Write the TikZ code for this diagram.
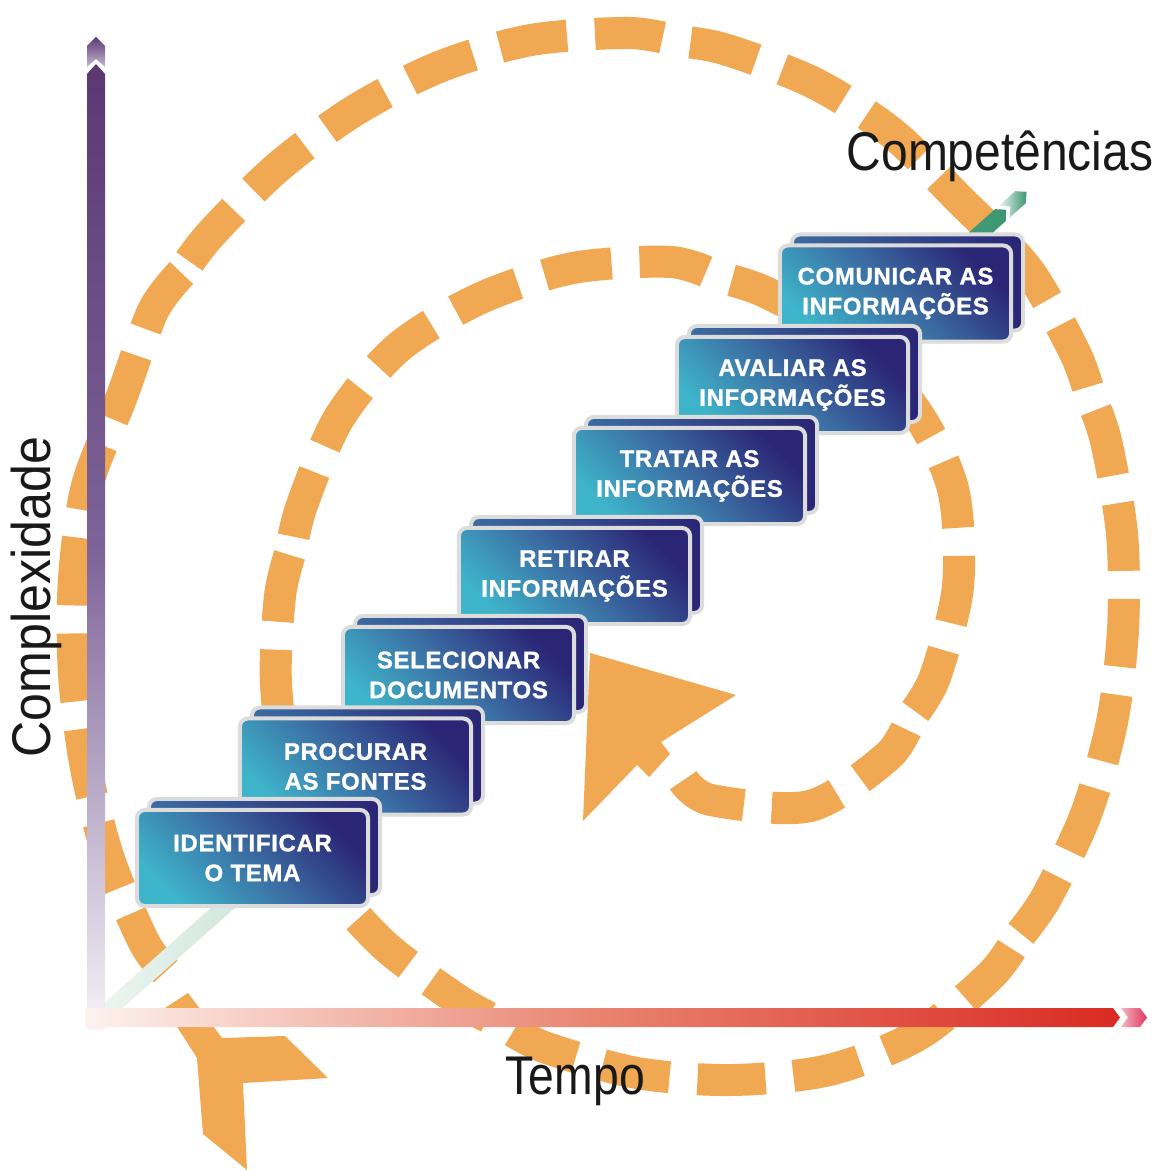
\documentclass[tikz,border=0pt]{standalone}
\usepackage{graphicx}
\usepackage{fontspec}
\setmainfont{Liberation Sans}
\newfontfamily\stepfont{Liberation Sans}[LetterSpace=3.0, BoldFeatures={FakeBold=1.2}]
\definecolor{spiralorange}{HTML}{F0A852}
\definecolor{purpD}{HTML}{5B3871}
\definecolor{purpM}{HTML}{7D6398}
\definecolor{purpL}{HTML}{F6F2F8}
\definecolor{redD}{HTML}{D92A21}
\definecolor{redM}{HTML}{E9826F}
\definecolor{redL}{HTML}{FDF2EE}
\definecolor{tipred}{HTML}{E0345A}
\definecolor{grnD}{HTML}{3C9771}
\definecolor{grnL}{HTML}{EEF6F2}
\definecolor{boxteal}{HTML}{3EB4CA}
\definecolor{boxblue}{HTML}{3B6CA2}
\definecolor{boxnavy}{HTML}{2A2575}
\definecolor{boxrim}{HTML}{DCDCDC}
\tikzset{
  stepbox/.style={rectangle, rounded corners=0.08cm, minimum width=2.31cm,
    minimum height=0.96cm, inner sep=0pt, draw=boxrim, line width=0.04cm,
    left color=boxteal, right color=boxnavy, middle color=boxblue, shading angle=135,
    text=white, align=center, font=\stepfont\bfseries\fontsize{6.8}{8.5}\selectfont,
    preaction={draw=boxrim, line width=0.04cm, left color=boxblue, right color=boxnavy,
      transform canvas={xshift=0.12cm, yshift=0.11cm}}},
  spiral/.style={draw=spiralorange, line width=0.32cm,
    dash pattern=on 0.68cm off 0.28cm, dash phase=0.82cm},
  axislabel/.style={inner sep=0pt, text=black!90, font=\fontsize{15.5}{18}\selectfont}
}

\begin{document}
\begin{tikzpicture}[x=0.01cm, y=-0.01cm]
    \useasboundingbox (0,0) rectangle (1156,1171);
    % spiral, drawn in pieces that start and end in a gap
    \draw[spiral, dash phase=0.87cm] plot[smooth] coordinates {(172,978) (145,944)
      (109,859) (86,768) (74,674) (74,579) (87,486) (122,396) (153,311) (181.5,273)};
    \draw[spiral] plot[smooth] coordinates {(181.5,273) (210,235) (277,168) (354,111)
      (439,67) (531,40) (629,33) (676.5,41)};
    \draw[spiral] plot[smooth] coordinates {(676.5,41) (724,49) (814,83) (892,133)
      (959,199) (1028,270) (1075,353) (1090.5,397)};
    \draw[spiral] plot[smooth] coordinates {(1090.5,397) (1106,441) (1122,534) (1123,629)
      (1112,722) (1086,814) (1046,898) (1018.5,936.5)};
    \draw[spiral] plot[smooth] coordinates {(1018.5,936.5) (991,975) (918,1035) (829,1070)
      (732,1080) (637,1073) (544,1047) (501,1023.5)};
    \draw[spiral] plot[smooth] coordinates {(501,1023.5) (458,1000) (383,944) (325,875)
      (290,785) (276,684) (280,596) (291,550.5)};
    \draw[spiral] plot[smooth] coordinates {(291,550.5) (302,505) (339,418) (399,347)
      (481,298) (573,268) (671,262) (718,277)};
    \draw[spiral] plot[smooth] coordinates {(718,277) (765,292) (850,340) (915,410)
      (953,489) (958,586) (935,677) (911.5,716.5)};
    \draw[spiral] plot[smooth] coordinates {(911.5,716.5) (888,756) (810,806) (711,800)
      (683,780)};
    \fill[spiralorange] (165,1008) -- (188,993) -- (222,1038) -- (285,1036) -- (328,1078)
      -- (243,1083) -- (247,1170) -- (203,1134) -- (197,1058) -- cycle;
    \fill[spiralorange] (590,653) -- (736,695) -- (661,742) -- (670,754) -- (649,777)
      -- (637,765) -- (583,821) -- cycle;
    % competencias
    \begin{scope}[shift={(97,1020)}, rotate=41.7]
      \shade[left color=grnL, right color=grnD] (0,-8) -- (1210,-8) -- (1218,0)
        -- (1210,8) -- (0,8) -- cycle;
      \shade[left color=grnL, right color=grnD] (1215,-8) -- (1237,-8) -- (1245,0)
        -- (1237,8) -- (1215,8) -- (1223,0) -- cycle;
    \end{scope}
    % complexidade
    \shade[top color=purpD, bottom color=purpL, middle color=purpM] (87,1030) -- (87,74)
      -- (96,64) -- (105,74) -- (105,1030) -- cycle;
    \shade[top color=purpD, bottom color=purpL!60!purpM] (87,67) -- (87,46) -- (96,37)
      -- (105,46) -- (105,67) -- (96,59) -- cycle;
    % tempo
    \shade[left color=redL, right color=redD, middle color=redM] (85,1008) -- (1113,1008)
      -- (1120,1017.5) -- (1113,1027) -- (85,1027) -- cycle;
    \shade[left color=redL!70!tipred, right color=tipred] (1121,1008) -- (1140,1008)
      -- (1147,1017.5) -- (1140,1027) -- (1121,1027) -- (1128,1017.5) -- cycle;
    % steps
    \foreach \nm/\cx/\cy/\ta/\tb in {comunicar/895.5/293.5/COMUNICAR AS/INFORMAÇÕES,
        avaliar/792.5/385/AVALIAR AS/INFORMAÇÕES, tratar/689.5/476/TRATAR AS/INFORMAÇÕES,
        retirar/574.5/576/RETIRAR/INFORMAÇÕES, docs/458.5/675/SELECIONAR/DOCUMENTOS,
        fontes/355.5/766.5/PROCURAR/AS FONTES, tema/252.5/858/IDENTIFICAR/O TEMA}
      \node[stepbox] (\nm) at (\cx,\cy) {\ta\\\tb};
    \node[axislabel, anchor=base west] (comp) at (846,171) {\scalebox{0.88}[1]{Competências}};
    \node[axislabel, anchor=base west] (tempo) at (505,1094) {\scalebox{0.85}[1]{Tempo}};
    \node[axislabel, anchor=base, rotate=90] (cplx) at (50,597) {\scalebox{0.92}[1]{Complexidade}};
\end{tikzpicture}
\end{document}
